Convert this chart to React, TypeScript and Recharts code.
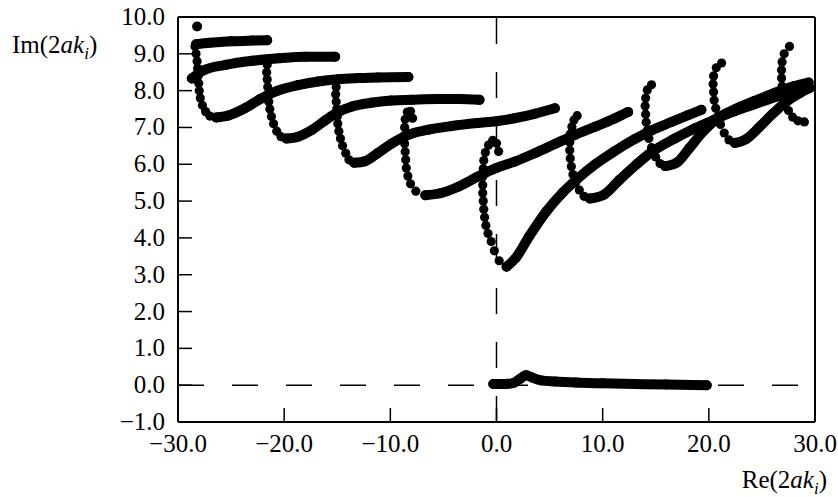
import React from "react"
import {
  ScatterChart,
  Scatter,
  XAxis,
  YAxis,
  ReferenceLine,
} from "recharts"

const xTicks = [-30, -20, -10, 0, 10, 20, 30]
const yTicks = [-1, 0, 1, 2, 3, 4, 5, 6, 7, 8, 9, 10]

// lone dot at the top left
const topDot = [[-28.2, 9.74]]

// short plateaus starting at the left edge
const lineA = [[-28.3, 9.26], [-27, 9.3], [-25, 9.34], [-23, 9.36], [-21.6, 9.37]]
const lineB = [[-28.7, 8.33], [-27.6, 8.55], [-25.5, 8.7], [-23, 8.81], [-20.5, 8.88], [-18, 8.92], [-15.2, 8.92]]

// trajectory 1 (hook near -28)
const hook1 = [[-28.4, 9.2], [-28.3, 9.0], [-28.2, 8.8], [-28.15, 8.6], [-28.1, 8.4], [-28.05, 8.2], [-28.0, 8.0], [-27.9, 7.8], [-27.7, 7.6], [-27.4, 7.43], [-27.0, 7.31]]
const body1 = [[-26.4, 7.27], [-25.3, 7.32], [-23.7, 7.52], [-22.2, 7.78], [-20.6, 8.0], [-18.7, 8.15], [-16.8, 8.25], [-14.9, 8.31], [-13.0, 8.34], [-11.2, 8.36], [-8.3, 8.37]]

// trajectory 2 (hook near -21.5)
const hook2 = [[-21.6, 8.7], [-21.65, 8.5], [-21.6, 8.3], [-21.55, 8.1], [-21.5, 7.9], [-21.45, 7.7], [-21.35, 7.5], [-21.2, 7.3], [-21.0, 7.1], [-20.7, 6.9], [-20.3, 6.75]]
const body2 = [[-19.8, 6.7], [-18.7, 6.75], [-17.4, 6.93], [-16.1, 7.2], [-14.9, 7.42], [-13.6, 7.57], [-11.8, 7.67], [-9.9, 7.73], [-8.0, 7.75], [-5.5, 7.77], [-3.5, 7.77], [-1.6, 7.75]]

// trajectory 3 (hook near -15)
const hook3 = [[-15.1, 8.1], [-15.15, 7.9], [-15.1, 7.7], [-15.05, 7.5], [-15.0, 7.3], [-14.95, 7.1], [-14.85, 6.9], [-14.7, 6.7], [-14.5, 6.5], [-14.2, 6.3], [-13.9, 6.12]]
const body3 = [[-13.4, 6.04], [-12.4, 6.08], [-11.2, 6.3], [-9.9, 6.56], [-8.3, 6.8], [-6.4, 6.94], [-4.2, 7.04], [-1.8, 7.12], [0, 7.17], [1.7, 7.25], [3.6, 7.37], [5.5, 7.52]]

// trajectory 4 (hook near -8.5)
const hook4 = [[-7.9, 7.25], [-8.1, 7.44], [-8.4, 7.42], [-8.6, 7.22], [-8.65, 7.0], [-8.65, 6.78], [-8.65, 6.56], [-8.6, 6.34], [-8.55, 6.12], [-8.5, 5.9], [-8.35, 5.68], [-8.1, 5.47], [-7.6, 5.27]]
const body4 = [[-6.7, 5.16], [-5.2, 5.22], [-3.6, 5.39], [-1.8, 5.66], [0, 5.9], [1.7, 6.07], [3.6, 6.3], [5.5, 6.55], [7.4, 6.8], [9.3, 7.02], [11.1, 7.24], [12.4, 7.42]]

// trajectory 5 (hook at 0, deepest)
const hook5 = [[0.2, 6.35], [0.0, 6.57], [-0.35, 6.65], [-0.75, 6.52], [-1.05, 6.32], [-1.2, 6.1], [-1.25, 5.88], [-1.3, 5.66], [-1.3, 5.44], [-1.3, 5.22], [-1.25, 5.0], [-1.2, 4.78], [-1.12, 4.56], [-1.0, 4.34], [-0.8, 4.12], [-0.5, 3.9], [-0.2, 3.65], [0.25, 3.38]]
const body5 = [[0.95, 3.22], [1.8, 3.45], [3.1, 4.05], [4.7, 4.72], [6.2, 5.22], [7.6, 5.6], [9.3, 6.0], [11.1, 6.35], [13.0, 6.68], [14.6, 6.92], [16.5, 7.15], [18.0, 7.33], [19.3, 7.48]]

// trajectory 6 (hook near 7.5)
const hook6 = [[7.6, 7.32], [7.3, 7.2], [7.1, 7.02], [6.95, 6.82], [6.9, 6.6], [6.9, 6.38], [6.95, 6.16], [7.05, 5.94], [7.2, 5.72], [7.45, 5.5], [7.8, 5.3], [8.25, 5.13]]
const body6 = [[8.8, 5.07], [10.1, 5.17], [11.6, 5.58], [13.2, 6.0], [14.6, 6.33], [16.8, 6.7], [18.7, 6.98], [20.6, 7.22], [22.5, 7.45], [24.3, 7.63], [26.2, 7.82], [28.0, 7.98], [29.4, 8.08]]

// trajectory 7 (hook near 14.5)
const hook7 = [[14.6, 8.16], [14.2, 8.02], [14.05, 7.8], [14.0, 7.58], [14.05, 7.36], [14.1, 7.14], [14.2, 6.92], [14.35, 6.7], [14.6, 6.45], [15.0, 6.2], [15.4, 6.02]]
const body7 = [[15.9, 5.95], [17.0, 6.05], [18.2, 6.45], [19.5, 6.9], [21.0, 7.28], [22.5, 7.5], [24.3, 7.72], [26.2, 7.94], [28.0, 8.12], [29.4, 8.22]]

// trajectory 8 (hook near 21)
const hook8 = [[21.2, 8.75], [20.7, 8.62], [20.45, 8.4], [20.4, 8.18], [20.45, 7.96], [20.5, 7.74], [20.65, 7.52], [20.85, 7.3], [21.1, 7.08], [21.45, 6.85], [21.9, 6.66]]
const body8 = [[22.45, 6.58], [23.5, 6.68], [24.8, 7.02], [26.05, 7.38], [27.3, 7.7], [28.6, 7.94], [29.5, 8.07]]

// trajectory 9 (hook near 27.5)
const hook9 = [[27.6, 9.2], [27.1, 9.0], [26.9, 8.78], [26.85, 8.56], [26.85, 8.34], [26.9, 8.12], [27.0, 7.9], [27.2, 7.68], [27.5, 7.46], [27.9, 7.28], [28.4, 7.18], [29.0, 7.15]]

// the pole near the real axis
const realPole = [[-0.3, 0.03], [0.8, 0.03], [1.6, 0.06], [2.2, 0.17], [2.8, 0.27], [3.4, 0.2], [4.2, 0.13], [5.5, 0.1], [7.5, 0.07], [10, 0.05], [13, 0.03], [16, 0.02], [19.8, 0.0]]

const hooks = [hook1, hook2, hook3, hook4, hook5, hook6, hook7, hook8, hook9]
const bodies = [lineA, lineB, body1, body2, body3, body4, body5, body6, body7, body8, realPole]

const toPts = (a: number[][]) => a.map(([x, y]) => ({ x, y }))

const FONT = "'Liberation Serif', 'Times New Roman', serif"
const fmt = (v: number) => (v < 0 ? "\u2212" + Math.abs(v).toFixed(1) : v.toFixed(1))

const Bead = (p: any) => <circle cx={p.cx} cy={p.cy} r={4.6} fill="#000" />
const BodyDot = (p: any) => <circle cx={p.cx} cy={p.cy} r={5} fill="#000" />

const BottomTick = (p: any) => (
  <g>
    <line x1={p.x} y1={p.y} x2={p.x} y2={p.y - 14} stroke="#000" strokeWidth={1.5} />
    <text x={p.x} y={p.y + 30} textAnchor="middle" fontFamily={FONT} fontSize={25} fill="#000">
      {fmt(p.payload.value)}
    </text>
  </g>
)
const TopTick = (p: any) => (
  <line x1={p.x} y1={p.y} x2={p.x} y2={p.y + 14} stroke="#000" strokeWidth={1.5} />
)
const LeftTick = (p: any) => (
  <g>
    <line x1={p.x} y1={p.y} x2={p.x + 14} y2={p.y} stroke="#000" strokeWidth={1.5} />
    <text x={p.x - 13} y={p.y + 8} textAnchor="end" fontFamily={FONT} fontSize={25} fill="#000">
      {fmt(p.payload.value)}
    </text>
  </g>
)
const RightTick = (p: any) => (
  <line x1={p.x} y1={p.y} x2={p.x - 14} y2={p.y} stroke="#000" strokeWidth={1.5} />
)

const axisLine = { stroke: "#000", strokeWidth: 2 }
const thick = { stroke: "#000", strokeWidth: 10, strokeLinecap: "round", strokeLinejoin: "round" }

export default function App() {
  return (
    <div style={{ position: "relative", width: 838, height: 497, fontFamily: FONT, color: "#000" }}>
      <style>{`body { margin: 0; overflow: hidden; } .recharts-surface { overflow: visible; }`}</style>
      <ScatterChart width={838} height={497} margin={{ top: 8, right: 0, bottom: 20, left: 108 }}>
        <XAxis
          xAxisId={0}
          dataKey="x"
          type="number"
          domain={[-30, 30]}
          ticks={xTicks}
          interval={0}
          height={55}
          tickSize={0}
          tickMargin={0}
          tickLine={false}
          axisLine={axisLine}
          tick={BottomTick}
          allowDataOverflow
        />
        <XAxis
          xAxisId="top"
          orientation="top"
          dataKey="x"
          type="number"
          domain={[-30, 30]}
          ticks={xTicks}
          interval={0}
          height={9}
          tickSize={0}
          tickMargin={0}
          tickLine={false}
          axisLine={axisLine}
          tick={TopTick}
        />
        <YAxis
          yAxisId={0}
          dataKey="y"
          type="number"
          domain={[-1, 10]}
          ticks={yTicks}
          interval={0}
          width={70}
          tickSize={0}
          tickMargin={0}
          tickLine={false}
          axisLine={axisLine}
          tick={LeftTick}
          allowDataOverflow
        />
        <YAxis
          yAxisId="right"
          orientation="right"
          dataKey="y"
          type="number"
          domain={[-1, 10]}
          ticks={yTicks}
          interval={0}
          width={23}
          tickSize={0}
          tickMargin={0}
          tickLine={false}
          axisLine={axisLine}
          tick={RightTick}
        />
        <ReferenceLine x={0} stroke="#000" strokeWidth={1.5} strokeDasharray="26 28" />
        <ReferenceLine y={0} stroke="#000" strokeWidth={1.5} strokeDasharray="26 28" />
        {bodies.map((b, i) => (
          <Scatter
            key={"body" + i}
            data={toPts(b)}
            line={thick}
            lineType="joint"
            lineJointType="monotoneX"
            shape={BodyDot}
            isAnimationActive={false}
          />
        ))}
        {hooks.map((h, i) => (
          <Scatter key={"hook" + i} data={toPts(h)} shape={Bead} isAnimationActive={false} />
        ))}
        <Scatter data={toPts(topDot)} shape={BodyDot} isAnimationActive={false} />
      </ScatterChart>
      <div style={{ position: "absolute", left: 12, top: 32, fontSize: 25, lineHeight: 1, whiteSpace: "nowrap" }}>
        Im(2<i>ak</i><sub style={{ fontSize: 17 }}><i>i</i></sub>)
      </div>
      <div style={{ position: "absolute", right: 11, top: 467, fontSize: 25, lineHeight: 1, whiteSpace: "nowrap" }}>
        Re(2<i>ak</i><sub style={{ fontSize: 17 }}><i>i</i></sub>)
      </div>
    </div>
  )
}
